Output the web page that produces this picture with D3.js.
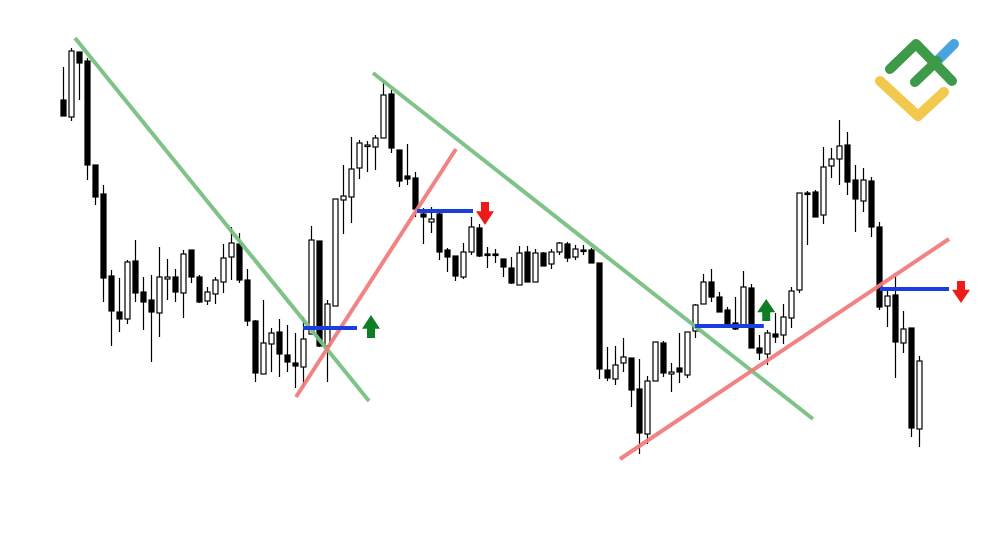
<!DOCTYPE html>
<html><head><meta charset="utf-8">
<script src="https://cdn.jsdelivr.net/npm/d3@7"></script>
<style>html,body{margin:0;padding:0;background:#fff;}svg{display:block;}</style>
</head><body>
<svg id="chart" width="1000" height="545"></svg>
<script>
// Candle data (price units, higher = up)
const categories = d3.range(108).map(i => "C" + (i + 1));
const opens  = [445,428,493,484,380,351,269,233,226,284,253,245,232,266,268,252,295,268,244,251,263,288,301,265,224,171,201,213,190,182,178,211,304,199,239,345,348,377,399,398,407,451,395,369,367,331,323,331,295,289,268,293,317,291,291,286,277,260,293,263,292,281,293,301,288,295,295,282,175,166,182,187,156,111,164,202,171,177,170,214,241,263,248,235,222,218,257,197,191,211,210,227,255,352,353,330,379,386,400,365,344,364,318,239,250,202,217,116];
const highs  = [478,497,493,487,380,360,275,267,285,305,268,270,298,286,276,295,295,270,258,268,301,318,312,276,225,245,217,226,220,212,228,319,304,245,346,380,408,405,404,410,465,455,395,401,373,337,338,332,297,289,302,328,321,298,296,286,288,299,299,296,293,296,303,303,300,300,297,282,198,199,207,187,186,169,203,204,182,212,213,241,271,276,253,238,248,274,261,210,215,232,241,258,352,354,355,398,397,425,413,380,377,368,323,258,269,234,217,189];
const lows   = [429,424,445,365,340,243,199,213,221,243,215,183,208,245,243,227,262,242,240,241,252,265,262,219,163,171,173,168,173,157,157,211,198,163,239,311,322,366,373,375,407,392,358,360,328,301,312,285,273,264,266,290,288,277,282,268,261,260,263,263,279,276,290,283,285,290,282,166,164,160,173,138,91,101,164,168,153,162,167,207,241,243,233,220,215,218,197,185,180,202,201,217,252,300,328,321,367,360,350,313,333,308,235,218,167,192,108,98];
const closes = [429,494,482,380,348,267,234,226,283,252,243,233,268,268,253,291,268,243,253,265,287,302,265,224,172,202,212,191,183,179,206,305,199,241,346,349,376,402,400,407,450,397,364,366,336,328,326,293,288,269,293,318,289,291,291,278,262,292,263,292,279,293,302,287,296,295,282,176,167,180,188,155,112,164,203,172,173,173,213,240,263,248,233,220,216,258,197,192,212,208,228,254,352,352,328,378,386,399,363,346,365,318,238,249,203,216,117,184];

// Annotation data (index / price units)
const trendGreen = [[[1.5,507],[38.25,144]], [[38.75,472],[93.75,126]]];
const trendRed   = [[[29.125,148],[49.125,396]], [[69.625,86],[110.75,306]]];
const levels     = [[30,36.75,217],[44.25,51.25,334],[79,87.6,219],[102.1,110.75,256]];
const arrowsUp   = [[38.5,230,207],[87.9,246,224]];
const arrowsDown = [[52.75,343,320],[112.25,264,242]];

const candles = categories.map((c,i)=>({c, i, o:opens[i], h:highs[i], l:lows[i], cl:closes[i]}));

const svg = d3.select("#chart");
const x = d3.scaleLinear().domain([0,107]).range([63,919]);
const y = d3.scaleLinear().domain([0,545]).range([545,0]);

const g = svg.append("g");
const bw = 5;
const cg = g.selectAll("g.c").data(candles).join("g").attr("class","c");
cg.append("line")
  .attr("x1",d=>Math.round(x(d.i))+0.5).attr("x2",d=>Math.round(x(d.i))+0.5)
  .attr("y1",d=>y(d.h)).attr("y2",d=>y(d.l))
  .attr("stroke","#000").attr("stroke-width",1.2);
cg.append("rect")
  .attr("x",d=>Math.round(x(d.i))-2)
  .attr("y",d=>y(Math.max(d.o,d.cl)))
  .attr("width",bw)
  .attr("height",d=>Math.max(1.5,Math.abs(y(d.o)-y(d.cl))))
  .attr("fill",d=>d.cl>d.o?"#fff":"#000")
  .attr("stroke","#000").attr("stroke-width",1.2);

const line = d3.line().x(d=>x(d[0])).y(d=>y(d[1]));
g.selectAll("path.tg").data(trendGreen).join("path").attr("class","tg")
  .attr("d",line).attr("stroke","#78c083").attr("stroke-width",4).attr("fill","none").attr("opacity",0.95);
g.selectAll("path.tr").data(trendRed).join("path").attr("class","tr")
  .attr("d",line).attr("stroke","#f07c7c").attr("stroke-width",4).attr("fill","none").attr("opacity",0.95);
g.selectAll("line.lv").data(levels).join("line").attr("class","lv")
  .attr("x1",d=>x(d[0])).attr("x2",d=>x(d[1])).attr("y1",d=>y(d[2])).attr("y2",d=>y(d[2]))
  .attr("stroke","#1a3de0").attr("stroke-width",4);

function arrowPath(cx, yTip, yEnd){
  const h = yEnd - yTip; // signed
  const hw = 9, sw = 4, hh = h*0.6;
  return `M${cx},${yTip} L${cx+hw},${yTip+hh} L${cx+sw},${yTip+hh} L${cx+sw},${yEnd} L${cx-sw},${yEnd} L${cx-sw},${yTip+hh} L${cx-hw},${yTip+hh} Z`;
}
g.selectAll("path.au").data(arrowsUp).join("path").attr("class","au")
  .attr("d",d=>arrowPath(x(d[0]),y(d[1]),y(d[2]))).attr("fill","#0f7d24");
g.selectAll("path.ad").data(arrowsDown).join("path").attr("class","ad")
  .attr("d",d=>arrowPath(x(d[0]),y(d[2]),y(d[1]))).attr("fill","#ee1b1b");

// Logo
const logo = svg.append("g").attr("fill","none").attr("stroke-linecap","round").attr("stroke-linejoin","round").attr("stroke-width",10);
logo.append("path").attr("d","M880,81 L918,116 L944,92").attr("stroke","#f2c94c");
logo.append("path").attr("d","M937,61 L954,44").attr("stroke","#4aa3df");
logo.append("path").attr("d","M890,69 L916,44 L952,81").attr("stroke","#3c9a48");
logo.append("path").attr("d","M915,82 L937,61").attr("stroke","#3c9a48");
</script>
</body></html>
